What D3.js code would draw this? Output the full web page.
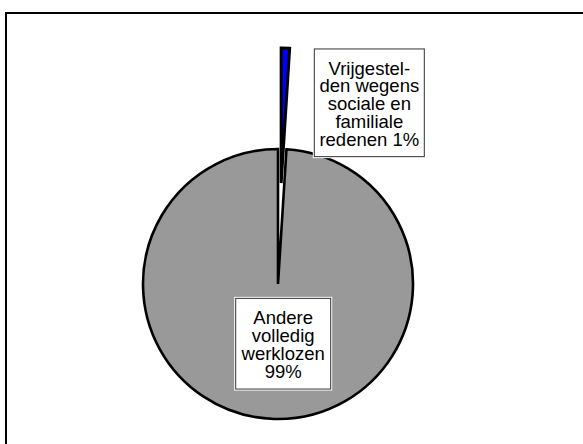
<!DOCTYPE html>
<html>
<head>
<meta charset="utf-8">
<script src="https://cdn.jsdelivr.net/npm/d3@7"></script>
<style>
	body { margin: 0; background: #fff; }
	svg { display: block; }
	text { font-family: "Liberation Sans", Arial, sans-serif; font-size: 18.5px; fill: #000; }
</style>
</head>
<body>
<svg id="chart" width="583" height="444"></svg>
<script>
var CATEGORIES = ['Vrijgestelden wegens sociale en familiale redenen', 'Andere volledig werklozen'];
var VALUES = [1, 99];
var LABEL_LINES = [
	['Vrijgestel-', 'den wegens', 'sociale en', 'familiale', 'redenen 1%'],
	['Andere', 'volledig', 'werklozen', '99%']
];
var FILLS = ['#0000ff', '#999999'];

PIECHART = {
	init: function() {
		var svg = d3.select('#chart');
		var center = [278, 284];
		var radius = 135;
		var explode = [101, 0];
		// label boxes: offset of box centre from pie centre, box size
		var boxes = [
			{dx: 91.3, dy: -181.2, w: 110, h: 107.7},
			{dx: 5.2, dy: 59.7, w: 95, h: 90.7}
		];
		var lineH = 17.75;

		// outer frame, cut off at right and bottom
		svg.append('rect')
			.attr('x', 6)
			.attr('y', 13)
			.attr('width', 700)
			.attr('height', 600)
			.attr('fill', 'none')
			.attr('stroke', '#000')
			.attr('stroke-width', 2);

		var pie = d3.pie()
			.sort(null)
			.value(function(d) { return d; });
		var arcs = pie(VALUES);

		var arc = d3.arc()
			.innerRadius(0)
			.outerRadius(radius);

		var g = svg.append('g')
			.attr('transform', 'translate(' + center[0] + ',' + center[1] + ')');

		// big slice first, the exploded one on top
		g.selectAll('path')
			.data(arcs.slice().reverse())
			.enter()
			.append('path')
			.attr('d', arc)
			.attr('fill', function(d) { return FILLS[d.index]; })
			.attr('stroke', '#000')
			.attr('stroke-width', function(d) { return d.index === 0 ? 3 : 2.6; })
			.attr('transform', function(d) {
				var a = (d.startAngle + d.endAngle) / 2;
				var r = explode[d.index];
				return 'translate(' + (r * Math.sin(a)) + ',' + (-r * Math.cos(a)) + ')';
			});

		var labels = g.selectAll('g.label')
			.data(arcs)
			.enter()
			.append('g')
			.attr('class', 'label')
			.attr('transform', function(d) {
				var b = boxes[d.index];
				return 'translate(' + b.dx + ',' + b.dy + ')';
			});

		labels.append('rect')
			.attr('x', function(d) { return -boxes[d.index].w / 2; })
			.attr('y', function(d) { return -boxes[d.index].h / 2; })
			.attr('width', function(d) { return boxes[d.index].w; })
			.attr('height', function(d) { return boxes[d.index].h; })
			.attr('fill', '#fff')
			.attr('stroke', '#fff')
			.attr('stroke-width', 3);

		labels.append('rect')
			.attr('x', function(d) { return -boxes[d.index].w / 2; })
			.attr('y', function(d) { return -boxes[d.index].h / 2; })
			.attr('width', function(d) { return boxes[d.index].w; })
			.attr('height', function(d) { return boxes[d.index].h; })
			.attr('fill', 'none')
			.attr('stroke', '#333')
			.attr('stroke-width', 1);

		labels.selectAll('text')
			.data(function(d) { return LABEL_LINES[d.index]; })
			.enter()
			.append('text')
			.attr('text-anchor', 'middle')
			.attr('x', 0)
			.attr('y', function(d, i, nodes) {
				return (i - (nodes.length - 1) / 2) * lineH + 7.4;
			})
			.text(function(d) { return d; });
	}
};

PIECHART.init();
</script>
</body>
</html>
